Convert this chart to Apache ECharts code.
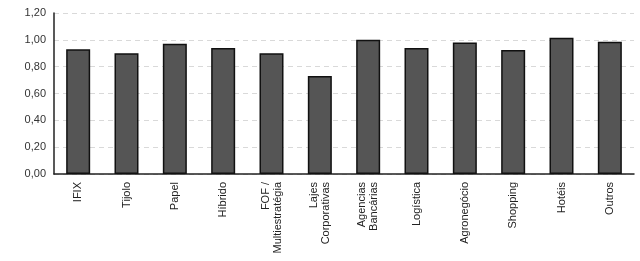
<!DOCTYPE html>
<html><head><meta charset="utf-8">
<script src="https://cdn.jsdelivr.net/npm/echarts@6/dist/echarts.min.js"></script>
<style>html,body{margin:0;padding:0;background:#fff}#c{width:640px;height:261px}</style>
</head><body><div id="c"></div>
<script>
const categories = ["IFIX","Tijolo","Papel","Híbrido","FOF /\nMultiestratégia","Lajes\nCorporativas","Agencias\nBancárias","Logística","Agronegócio","Shopping","Hotéis","Outros"];
const values = [0.93,0.90,0.97,0.94,0.90,0.73,1.00,0.94,0.98,0.925,1.015,0.985];
const chart = echarts.init(document.getElementById('c'));
chart.setOption({
  animation:false,
  grid:{left:54,right:6,top:13,bottom:87},
  xAxis:{type:'category',data:categories,
    axisLine:{lineStyle:{color:'#222',width:1.5}},axisTick:{show:false},
    axisLabel:{rotate:90,margin:8,fontSize:11,color:'#222',fontFamily:'Liberation Sans, Arial',lineHeight:12,interval:0}},
  yAxis:{type:'value',min:0,max:1.2,interval:0.2,
    axisLine:{show:true,lineStyle:{color:'#222',width:1.5}},axisTick:{show:false},
    axisLabel:{fontSize:11,color:'#333',fontFamily:'Liberation Sans, Arial',margin:8,
      formatter:v=>v.toFixed(2).replace('.',',')},
    splitLine:{lineStyle:{color:'#d9d9d9',type:[5,4]}}},
  series:[{type:'bar',data:values,barWidth:24,
    itemStyle:{color:'#555555',borderColor:'#111',borderWidth:1.5}}]
});
</script></body></html>
